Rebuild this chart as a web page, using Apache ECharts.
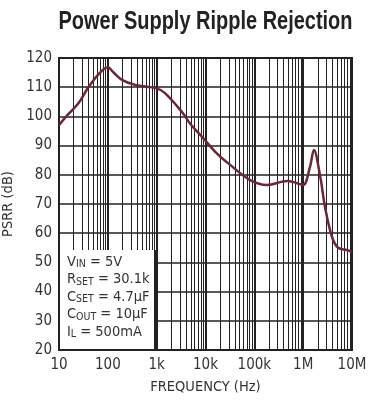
<!DOCTYPE html>
<html>
<head>
<meta charset="utf-8">
<script src="https://cdn.jsdelivr.net/npm/echarts@6/dist/echarts.min.js"></script>
<style>
  html, body { margin: 0; padding: 0; background: #fff; }
  #chart { width: 379px; height: 400px; }
</style>
</head>
<body>
<div id="chart"></div>
<script>
const FONT = "'DejaVu Sans Condensed', 'Liberation Sans', sans-serif"
const TITLE_FONT = "'Liberation Sans', Arial, sans-serif"

// frequency (Hz) and PSRR (dB)
const freqHz = [10, 15, 25, 39, 65, 100, 128, 195, 360, 1000, 1500, 3300, 5000, 8500, 16000,
  32000, 82000, 182000, 470000, 700000, 1000000, 1380000, 1660000, 2240000, 2800000, 3900000,
  5200000, 8000000, 10000000]
const psrr = [97, 100.5, 104.5, 109.7, 114.5, 116.8, 115.2, 112.5, 110.8, 109.6, 107.9, 101.5,
  97.2, 93, 87.8, 83.4, 78.2, 76.5, 77.9, 77.3, 76.5, 82.7, 88.5, 79.3, 69, 58.7, 55, 54.2, 53.6]

const yTicks = [20, 30, 40, 50, 60, 70, 80, 90, 100, 110, 120]
const xTickLabels = { 10: '10', 100: '100', 1000: '1k', 10000: '10k', 100000: '100k', 1000000: '1M', 10000000: '10M' }

const titleText = 'Power Supply Ripple Rejection'

// minor vertical grid lines 2..9 in each decade
const minorLines = []
for (let d = 10; d < 1e7; d *= 10) {
  for (let k = 2; k <= 9; k++) minorLines.push({ xAxis: k * d })
}

// squeeze the title to the width of the plot (condensed look)
const ctx = document.createElement('canvas').getContext('2d')
ctx.font = 'bold 25px ' + TITLE_FONT
const titleScale = 294 / ctx.measureText(titleText).width

const chart = echarts.init(document.getElementById('chart'))

chart.setOption({
  animation: false,
  grid: {
    left: 59, right: 27, top: 58, bottom: 50,
    outerBoundsMode: 'none', containLabel: false,
    show: true, borderColor: '#222', borderWidth: 2, backgroundColor: 'transparent',
  },
  xAxis: {
    type: 'log',
    logBase: 10,
    min: 10,
    max: 1e7,
    splitNumber: 6,
    name: 'FREQUENCY (Hz)',
    nameLocation: 'middle',
    nameGap: 30,
    nameTextStyle: { fontFamily: FONT, fontSize: 14.5, color: '#333' },
    axisLine: { show: false },
    axisTick: { show: false },
    axisLabel: {
      fontFamily: FONT, fontSize: 15, color: '#333', margin: 8,
      formatter: v => xTickLabels[Math.round(v)] || '',
    },
    splitLine: { show: true, lineStyle: { color: '#222', width: 2 } },
  },
  yAxis: {
    type: 'value',
    min: yTicks[0],
    max: yTicks[yTicks.length - 1],
    interval: 10,
    name: 'PSRR (dB)',
    nameLocation: 'middle',
    nameGap: 43,
    nameTextStyle: { fontFamily: FONT, fontSize: 14.5, color: '#333' },
    axisLine: { show: false },
    axisTick: { show: false },
    axisLabel: { fontFamily: FONT, fontSize: 15, color: '#333', margin: 7 },
    splitLine: { show: true, lineStyle: { color: '#222', width: 1.5 } },
  },
  series: [{
    type: 'line',
    data: freqHz.map((f, i) => [f, psrr[i]]),
    smooth: 0.35,
    showSymbol: false,
    lineStyle: { color: '#6e2636', width: 2.5 },
    z: 5,
    markLine: {
      silent: true,
      symbol: 'none',
      label: { show: false },
      lineStyle: { color: '#222', width: 1, type: 'solid' },
      data: minorLines,
      z: 1,
    },
  }],
  graphic: [
    {
      type: 'text',
      x: 205.5,
      y: 10,
      scaleX: titleScale,
      style: {
        text: titleText,
        fontFamily: TITLE_FONT,
        fontSize: 25,
        fontWeight: 'bold',
        fill: '#222',
        textAlign: 'center',
        textVerticalAlign: 'top',
      },
    },
    {
      type: 'rect',
      z: 100,
      shape: { x: 60, y: 250, width: 95, height: 99 },
      style: { fill: '#fff' },
    },
    {
      type: 'line',
      z: 101,
      shape: { x1: 155, y1: 250, x2: 155, y2: 350 },
      style: { stroke: '#222', lineWidth: 2 },
    },
    {
      type: 'text',
      z: 102,
      left: 67,
      top: 253,
      style: {
        text: 'V{s|IN} = 5V\nR{s|SET} = 30.1k\nC{s|SET} = 4.7µF\nC{s|OUT} = 10µF\nI{s|L} = 500mA',
        fontFamily: FONT,
        fontSize: 14.5,
        lineHeight: 17.5,
        fill: '#333',
        rich: {
          s: { fontFamily: FONT, fontSize: 10.5, fill: '#333', padding: [6, 0, 0, 0], lineHeight: 17.5 },
        },
      },
    },
  ],
})
</script>
</body>
</html>
